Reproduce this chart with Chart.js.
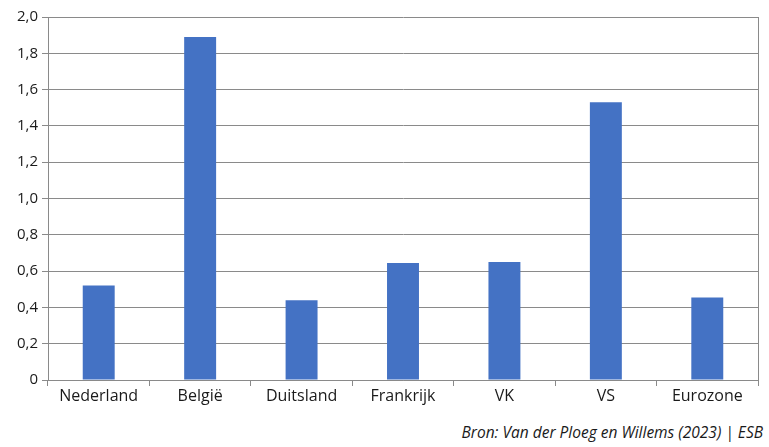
<!DOCTYPE html>
<html>
<head>
<meta charset="utf-8">
<script src="https://cdn.jsdelivr.net/npm/chart.js@4.4.1/dist/chart.umd.min.js"></script>
<style>
  html, body { margin: 0; padding: 0; background: #fff; }
  #wrap { position: relative; width: 769px; height: 447px; }
  #chartBox { position: absolute; left: 0; top: 0; width: 769px; height: 413px; }
  #source {
    position: absolute; right: 6px; top: 421px;
    font-family: 'Open Sans', sans-serif; font-style: italic; font-size: 15.5px;
    color: #1a1a1a; white-space: nowrap;
  }
</style>
</head>
<body>
<div id="wrap">
  <div id="chartBox"><canvas id="chart"></canvas></div>
  <div id="source"></div>
</div>
<script>
const categories = ['Nederland', 'België', 'Duitsland', 'Frankrijk', 'VK', 'VS', 'Eurozone'];
const values = [0.52, 1.89, 0.44, 0.645, 0.65, 1.53, 0.455];
const yTicks = [0, 0.2, 0.4, 0.6, 0.8, 1.0, 1.2, 1.4, 1.6, 1.8, 2.0];
const source = 'Bron: Van der Ploeg en Willems (2023) | ESB';

const GRID = '#8a8a8a';
const BAR = '#4472C4';

document.getElementById('source').textContent = source;

// right-hand frame line of the plot area
const rightBorder = {
    id: 'rightBorder',
    afterDatasetsDraw(chart) {
        const { ctx, chartArea } = chart;
        ctx.save();
        ctx.strokeStyle = GRID;
        ctx.lineWidth = 1;
        ctx.beginPath();
        ctx.moveTo(Math.round(chartArea.right) + 0.5, chartArea.top);
        ctx.lineTo(Math.round(chartArea.right) + 0.5, chartArea.bottom);
        ctx.stroke();
        ctx.restore();
    }
};

new Chart(document.getElementById('chart'), {
    type: 'bar',
    data: {
        labels: categories,
        datasets: [{
            data: values,
            backgroundColor: BAR,
            borderWidth: 0,
            barPercentage: 0.63,
            categoryPercentage: 0.5,
        }],
    },
    options: {
        responsive: true,
        maintainAspectRatio: false,
        animation: false,
        layout: { padding: { top: 17, right: 11, left: 0, bottom: 0 } },
        plugins: {
            legend: { display: false },
            tooltip: { enabled: false },
        },
        scales: {
            x: {
                afterFit(scale) { scale.height = 33; },
                grid: { display: true, offset: true, drawOnChartArea: false, color: GRID, tickLength: 6 },
                border: { display: true, color: GRID },
                ticks: { color: '#1a1a1a', font: { family: "'Open Sans', sans-serif", size: 16 }, padding: 1 },
            },
            y: {
                min: 0,
                max: 2,
                afterBuildTicks(scale) { scale.ticks = yTicks.map(v => ({ value: v })); },
                afterFit(scale) { scale.width = 48; },
                grid: { color: GRID, tickLength: 6 },
                border: { display: true, color: GRID },
                ticks: {
                    color: '#1a1a1a',
                    font: { family: "'Open Sans', sans-serif", size: 15 },
                    padding: 4,
                    callback: v => v === 0 ? '0' : v.toFixed(1).replace('.', ','),
                },
            },
        },
    },
    plugins: [rightBorder],
});
</script>
</body>
</html>
